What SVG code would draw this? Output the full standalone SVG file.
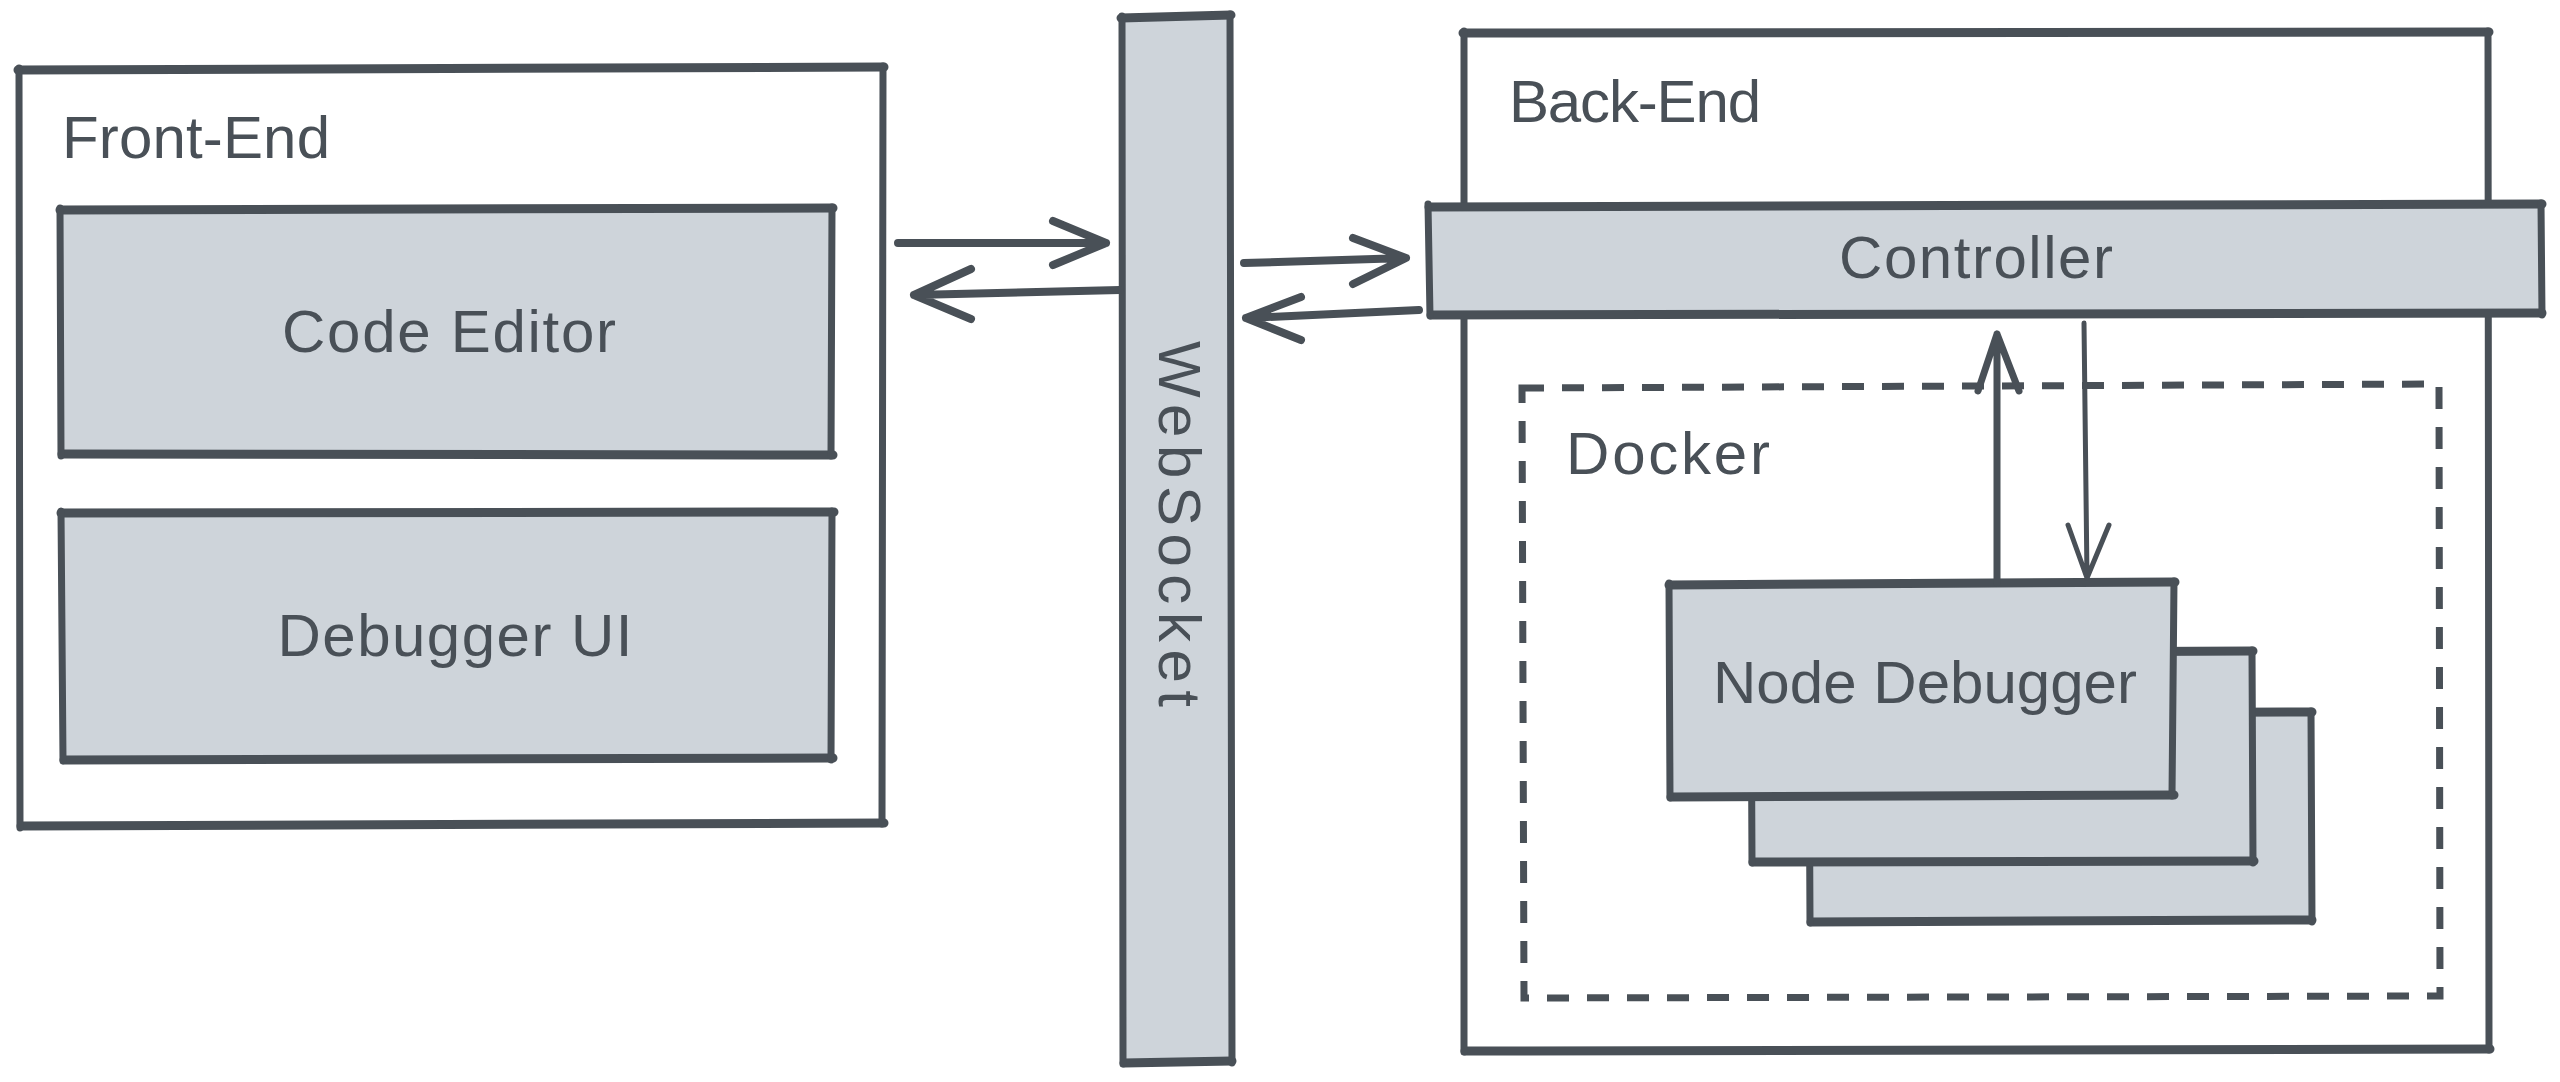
<svg xmlns="http://www.w3.org/2000/svg" width="2560" height="1082" viewBox="0 0 2560 1082">
<style>
.h{fill:none;stroke:#495057;stroke-width:9;stroke-linecap:round;stroke-linejoin:round}
.v{fill:none;stroke:#495057;stroke-width:7;stroke-linecap:round;stroke-linejoin:round}
.ar{fill:none;stroke:#495057;stroke-width:8;stroke-linecap:round;stroke-linejoin:round}
.ds{fill:none;stroke:#495057;stroke-width:7;stroke-dasharray:22 18}
.fl{fill:#ced4da}
.tx{font-family:"Liberation Sans",Arial,sans-serif;fill:#495057;font-size:60px}
.c{text-anchor:middle}
</style>
<rect width="2560" height="1082" fill="#ffffff"/>
<g id="front-end">
<path class="h" d="M18 70 L884 67 M884 823 L21 826"/>
<path class="v" d="M883 66 L882 824 M20 828 L19 68"/>
<text class="tx" x="62" y="158" textLength="268">Front-End</text>
</g>
<g id="code-editor">
<rect class="fl" x="61" y="209" width="771" height="246"/>
<path class="h" d="M60 210 L833 208 M833 455 L62 454"/>
<path class="v" d="M832 207 L831 456 M61 456 L60 208"/>
<text class="tx c" x="449" y="352" font-size="62" textLength="334">Code Editor</text>
</g>
<g id="debugger-ui">
<rect class="fl" x="62" y="512" width="770" height="247"/>
<path class="h" d="M61 513 L834 512 M833 758 L64 760"/>
<path class="v" d="M832 511 L831 760 M63 761 L61 511"/>
<text class="tx c" x="455" y="656" font-size="62" textLength="355">Debugger UI</text>
</g>
<g id="websocket">
<rect class="fl" x="1122" y="17" width="108" height="1045"/>
<path class="h" d="M1121 18 L1231 15 M1232 1061 L1124 1063"/>
<path class="v" d="M1230 14 L1232 1063 M1123 1064 L1122 16"/>
<text class="tx c" transform="translate(1159 524) rotate(90)" x="0" y="0" font-size="62" textLength="366">WebSocket</text>
</g>
<g id="back-end">
<path class="h" d="M1463 33 L2489 32 M2490 1049 L1465 1051"/>
<path class="v" d="M2488 31 L2489 1050 M1464 1052 L1464 31"/>
<text class="tx" x="1509" y="122" textLength="252">Back-End</text>
</g>
<g id="controller">
<rect class="fl" x="1430" y="206" width="1110" height="108"/>
<path class="h" d="M1429 207 L2542 204 M2542 313 L1431 315"/>
<path class="v" d="M2541 203 L2542 315 M1430 316 L1428 204"/>
<text class="tx c" x="1976" y="278" textLength="274">Controller</text>
</g>
<g id="docker">
<path class="ds" d="M1522 388 L2439 384 L2440 996 L1524 998 Z"/>
<text class="tx" x="1566" y="474" textLength="204">Docker</text>
</g>
<g id="node-debugger-3">
<rect class="fl" x="1810" y="713" width="501" height="208"/>
<path class="h" d="M1809 714 L2312 712 M2312 920 L1811 922"/>
<path class="v" d="M2311 711 L2312 922 M1810 923 L1809 712"/>
</g>
<g id="node-debugger-2">
<rect class="fl" x="1752" y="652" width="501" height="210"/>
<path class="h" d="M1751 653 L2253 651 M2254 861 L1753 862"/>
<path class="v" d="M2252 650 L2253 863 M1752 863 L1751 651"/>
</g>
<g id="node-debugger">
<rect class="fl" x="1670" y="583" width="504" height="212"/>
<path class="h" d="M1669 585 L2175 582 M2174 795 L1671 797"/>
<path class="v" d="M2174 581 L2172 796 M1670 798 L1669 583"/>
<text class="tx c" x="1925" y="703" textLength="424">Node Debugger</text>
</g>
<g id="connectors">
<path class="ar" d="M898 243 L1106 243 M1053 221 L1106 243 L1053 265"/>
<path class="ar" d="M1120 290 L914 295 M971 269 L914 295 L971 319"/>
<path class="ar" d="M1244 263 L1406 258 M1353 238 L1406 258 L1353 284"/>
<path class="ar" d="M1419 310 L1246 318 M1301 297 L1246 318 L1301 340"/>
<path class="v" d="M1997 583 L1997 334 M1978 391 L1997 334 L2019 391"/>
<path class="v" style="stroke-width:5" d="M2084 323 L2087 578 M2068 525 L2087 578 L2109 525"/>
</g>
</svg>
